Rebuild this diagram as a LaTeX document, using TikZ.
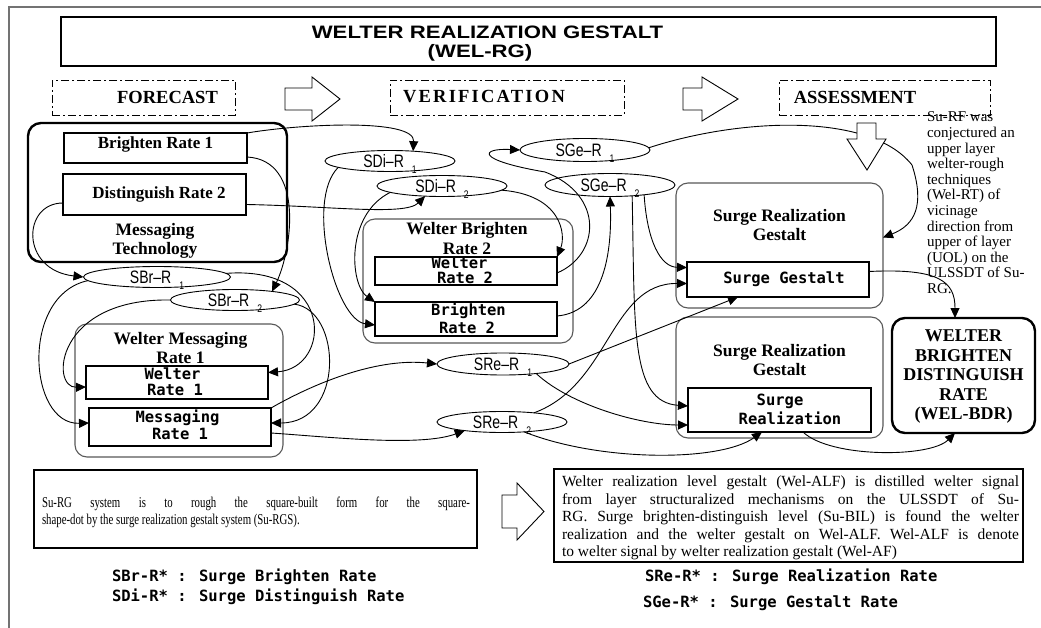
\documentclass[tikz,border=0pt]{standalone}
\usepackage{fontspec}
\setmainfont{Liberation Serif}
\newfontfamily\sansf{Liberation Sans}
\newfontfamily\narrowsans[FakeStretch=0.78]{Liberation Sans}
\newfontfamily\monof{DejaVu Sans Mono}
\newfontfamily\condserif[FakeStretch=0.72]{Liberation Serif}
\usetikzlibrary{shapes.geometric,arrows.meta}
\newcommand\esub[1]{\hspace{8pt}\raisebox{-6pt}[0pt][0pt]{\fontsize{11}{11}\selectfont #1}}
\tikzset{
  every node/.style={inner sep=0pt, outer sep=0pt},
  conn/.style={draw, line width=0.9pt, -{Triangle[length=10pt,width=9pt]}},
  ell/.style={ellipse, draw, line width=0.9pt, font=\narrowsans\fontsize{18}{18}\selectfont},
  ibox/.style={rectangle, draw, line width=1.2pt},
  cont/.style={rectangle, draw=black!65, line width=1.1pt, rounded corners=12pt},
  heavy/.style={rectangle, draw, line width=2.4pt, rounded corners=13pt},
  phase/.style={rectangle, draw, line width=0.9pt, dash pattern=on 8pt off 3pt on 2pt off 3pt},
  phasetext/.style={font=\bfseries\fontsize{18.5}{20}\selectfont},
  ttl/.style={font=\bfseries\fontsize{17.5}{19.5}\selectfont, align=center},
  btl/.style={font=\bfseries\fontsize{17}{19}\selectfont},
  mono/.style={font=\monof\bfseries\fontsize{15.5}{17}\selectfont},
  blockarrow/.style={draw, line width=0.9pt, fill=white},
  framestyle/.style={draw=black!55, line width=2pt},
  titletext/.style={font=\sansf\bfseries\fontsize{18}{20}\selectfont},
}
\begin{document}
\begin{tikzpicture}[x=1pt,y=-1pt]
\useasboundingbox (0,0) rectangle (1041,628);
\fill[white] (0,0) rectangle (1041,628);
\draw[framestyle] (9,628) -- (9,7) -- (1041,7);

% title
\node[ibox, minimum width=935pt, minimum height=49pt] (title) at (528.5,41.5) {};
\node[titletext] (title1) at (487.5,32) {\scalebox{1.23}[1]{WELTER REALIZATION GESTALT}};
\node[titletext] (title2) at (480,53) {\scalebox{1.23}[1]{(WEL-RG)}};

% phases
\node[phase, minimum width=183pt, minimum height=35pt] (fc) at (143.5,97.5) {};
\node[phasetext] (fct) at (167.5,97) {FORECAST};
\node[phase, minimum width=234pt, minimum height=35pt] (vf) at (507,97.5) {};
\node[phasetext] (vft) at (484,97) {\addfontfeature{LetterSpace=12}VERIFICATION};
\node[phase, minimum width=211pt, minimum height=35pt] (as) at (884.5,97.5) {};
\node[phasetext] (ast) at (855,97) {ASSESSMENT};

\draw[blockarrow] (285,88) -- (312,88) -- (312,77) -- (340,99) -- (312,121) -- (312,110) -- (285,110) -- cycle;
\draw[blockarrow] (683,88) -- (702,88) -- (702,77) -- (738,99) -- (702,121) -- (702,110) -- (683,110) -- cycle;

% Messaging technology
\node[heavy, minimum width=259pt, minimum height=139pt] (mt) at (157.5,192.5) {};
\node[ibox, minimum width=183pt, minimum height=30pt] (brr1) at (155.5,148) {};
\node[btl] (brr1t) at (155.5,144) {Brighten Rate 1};
\node[ibox, minimum width=183pt, minimum height=41pt] (dr2) at (154.5,194.5) {};
\node[btl] (dr2t) at (159,194) {Distinguish Rate 2};
\node[ttl] (mtt) at (155,241) {Messaging\\Technology};

% Welter Brighten Rate 2
\node[cont, minimum width=210pt, minimum height=124pt] (wbr2) at (468,281) {};
\node[ttl] (wbr2t) at (467,238.5) {Welter Brighten\\Rate 2};
\node[ibox, minimum width=182pt, minimum height=28pt] (wr2) at (466,271) {};
\node[mono] (wr2a) at (459.5,263) {Welter};
\node[mono] (wr2b) at (465,278) {Rate 2};
\node[ibox, minimum width=182pt, minimum height=34pt] (br2) at (466,319) {};
\node[mono] (br2a) at (468.5,311) {Brighten};
\node[mono] (br2b) at (467,328) {Rate 2};

% Welter Messaging Rate 1
\node[cont, minimum width=208pt, minimum height=133pt] (wmr1) at (179,390.5) {};
\node[ttl] (wmr1t) at (180.5,348) {Welter Messaging\\Rate 1};
\node[ibox, minimum width=182pt, minimum height=33pt] (wr1) at (177,382.5) {};
\node[mono] (wr1a) at (172.5,374) {Welter};
\node[mono] (wr1b) at (175,390) {Rate 1};
\node[ibox, minimum width=182pt, minimum height=38pt] (mr1) at (180,427) {};
\node[mono] (mr1a) at (177.5,418) {Messaging};
\node[mono] (mr1b) at (180,434) {Rate 1};

% Surge Realization Gestalt 1
\node[cont, minimum width=207pt, minimum height=125pt] (srg1) at (779.5,245.5) {};
\node[ttl] (srg1t) at (779.5,225) {Surge Realization\\Gestalt};
\node[ibox, minimum width=182pt, minimum height=35pt] (sg) at (778,279.5) {};
\node[mono] (sgt) at (784,279) {Surge Gestalt};

% Surge Realization Gestalt 2
\node[cont, minimum width=207pt, minimum height=121pt] (srg2) at (779.5,377.5) {};
\node[ttl] (srg2t) at (779.5,360) {Surge Realization\\Gestalt};
\node[ibox, minimum width=183pt, minimum height=44pt] (sr) at (779.5,410) {};
\node[mono] (sra) at (780,401) {Surge};
\node[mono] (srb) at (790,418) {Realization};

% WEL-BDR
\node[heavy, minimum width=143pt, minimum height=115pt] (bdr) at (963.5,375.5) {};
\node[font=\bfseries\fontsize{18}{19.5}\selectfont, align=center] (bdrt) at (963.5,377) {WELTER\\BRIGHTEN\\DISTINGUISH\\RATE\\(WEL-BDR)};

% side text
\node[anchor=north west, align=left, font=\fontsize{15}{15.6}\selectfont] (surf) at (927,112) {Su-RF was\\conjectured an\\upper layer\\welter-rough\\techniques\\(Wel-RT) of\\vicinage\\direction from\\upper of layer\\(UOL) on the\\ULSSDT of Su-\\RG.};

% ellipses
\node[ell, minimum width=147pt, minimum height=21pt] (sbr1) at (157,277) {SBr–R\esub{1}};
\node[ell, minimum width=129pt, minimum height=21pt] (sbr2) at (235,300) {SBr–R\esub{2}};
\node[ell, minimum width=130pt, minimum height=21pt] (sdi1) at (390,161) {SDi–R\esub{1}};
\node[ell, minimum width=130pt, minimum height=21pt] (sdi2) at (442,186) {SDi–R\esub{2}};
\node[ell, minimum width=130pt, minimum height=23pt] (sge1) at (585,150) {SGe–R\esub{1}};
\node[ell, minimum width=130pt, minimum height=23pt] (sge2) at (610,185) {SGe–R\esub{2}};
\node[ell, minimum width=132pt, minimum height=22pt] (sre1) at (503,364) {SRe–R\esub{1}};
\node[ell, minimum width=130pt, minimum height=21pt] (sre2) at (502,422) {SRe–R\esub{2}};

% connectors
\draw[conn] (brr1.north east) .. controls (300,124) and (415,118) .. (sdi1.23);
\draw[conn] ([yshift=-9pt]brr1.east) .. controls (305,160) and (292,250) .. (sbr2.13);
\draw[conn] ([yshift=-10pt]dr2.east) .. controls (330,206) and (405,216) .. (sdi2.211);
\draw[conn] ([yshift=-8.5pt]dr2.west) .. controls (22,203) and (20,270) .. (sbr1.west);
\draw[conn] (sbr1.3) .. controls (335,265) and (332,368) .. ([yshift=10pt]wr1.east);
\draw[conn] (sbr1.183) .. controls (20,295) and (28,425) .. ([yshift=4pt]mr1.west);
\draw[conn] (sbr2.west) .. controls (55,298) and (50,388) .. ([yshift=-4.5pt]wr1.west);
\draw[conn] (sbr2.356) .. controls (342,310) and (345,423) .. ([yshift=4pt]mr1.east);
\draw[conn] (sdi1.187) .. controls (305,200) and (335,320) .. ([yshift=-6pt]br2.west);
\draw[conn] (sdi2.187) .. controls (345,215) and (350,285) .. (br2.north west);
\draw[conn] (sdi2.356) .. controls (562,195) and (566,235) .. (wr2.north east);
\draw[conn] ([yshift=-2pt]wr2.east) .. controls (600,255) and (605,195) .. (545,172) .. controls (475,160) and (480,148) .. (sge1.west);
\draw[conn] ([yshift=3pt]br2.east) .. controls (605,312) and (612,250) .. (sge2.south);
\draw[conn] (sge1.2) .. controls (740,118) and (870,112) .. (912,165) .. controls (925,205) and (915,225) .. ([yshift=8pt]srg1.east);
\draw[conn] (sge2.334) .. controls (635,330) and (630,402) .. ([yshift=4pt]sr.west);
\draw[conn] (sge2.344) .. controls (647,240) and (660,267) .. ([yshift=12pt]sg.west);
\draw[conn] (sre2.16) .. controls (610,385) and (610,283) .. ([yshift=-4pt]sg.west);
\draw[conn] (sre1.east) -- ([xshift=-40pt]sg.south);
\draw[conn] (sre1.344) .. controls (570,405) and (640,425) .. ([yshift=-15pt]sr.west);
\draw[conn] (mr1.north east) .. controls (320,380) and (380,358) .. (sre1.west);
\draw[conn] ([yshift=-6pt]mr1.east) .. controls (330,437) and (420,447) .. (sre2.193);
\draw[conn] (sre2.336) .. controls (600,462) and (720,462) .. ([xshift=-17.5pt]sr.south);
\draw[conn] ([xshift=23.5pt]sr.south) .. controls (830,458) and (930,458) .. ([xshift=-8.5pt]bdr.south);
\draw[conn] ([yshift=8pt]sg.east) .. controls (940,268) and (955,282) .. ([xshift=-8.5pt]bdr.north);

% down arrow under ASSESSMENT
\draw[blockarrow] (857,123) -- (876,123) -- (876,139) -- (886,139) -- (867,170) -- (847,139) -- (857,139) -- cycle;

% bottom boxes
\node[ibox, minimum width=443pt, minimum height=78pt] (blbox) at (255.5,509) {};
\node[anchor=north west, align=left, font=\condserif\fontsize{15}{17}\selectfont] (bltext) at (42,496.5) {\makebox[428pt][s]{Su-RG system is to rough the square-built form for the square-}\\shape-dot by the surge realization gestalt system (Su-RGS).};
\draw[blockarrow] (502,495) -- (517,495) -- (517,483) -- (544,511.5) -- (517,540) -- (517,528) -- (502,528) -- cycle;
\node[ibox, minimum width=469pt, minimum height=93pt] (brbox) at (788.5,515.5) {};
\node[anchor=north west, align=left, font=\fontsize{15.5}{17.5}\selectfont] (brtext) at (562,476) {\makebox[457pt][s]{Welter realization level gestalt (Wel-ALF) is distilled welter signal}\\\makebox[457pt][s]{from layer structuralized mechanisms on the ULSSDT of Su-}\\\makebox[457pt][s]{RG. Surge brighten-distinguish level (Su-BIL) is found the welter}\\\makebox[457pt][s]{realization and the welter gestalt on Wel-ALF. Wel-ALF is denote}\\to welter signal by welter realization gestalt (Wel-AF)};

% legend
\node[mono, anchor=west] (leg1) at (112,577) {SBr-R* : Surge Brighten Rate};
\node[mono, anchor=west] (leg2) at (112,597) {SDi-R* : Surge Distinguish Rate};
\node[mono, anchor=west] (leg3) at (645,577) {SRe-R* : Surge Realization Rate};
\node[mono, anchor=west] (leg4) at (643,603) {SGe-R* : Surge Gestalt Rate};
\end{tikzpicture}
\end{document}
